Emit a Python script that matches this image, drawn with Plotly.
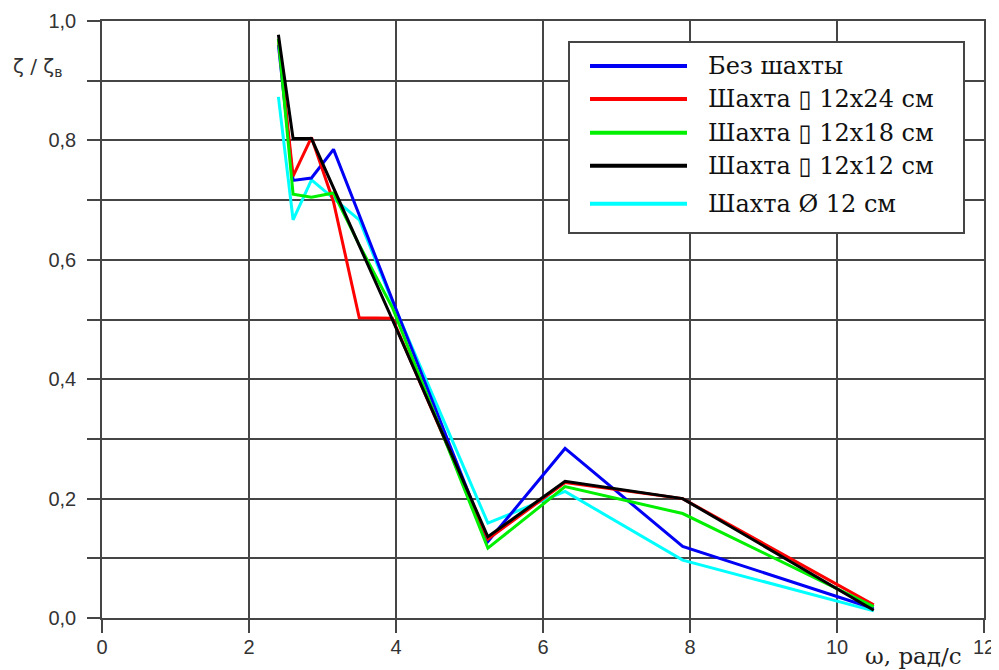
import plotly.graph_objects as go

# ---- data ----
omega = [2.4, 2.6, 2.85, 3.15, 3.5, 3.95, 5.25, 6.3, 7.9, 10.5]

bez_shakhty = [0.960, 0.733, 0.737, 0.785, 0.675, 0.533, 0.128, 0.284, 0.120, 0.016]
shakhta_12x24 = [0.970, 0.740, 0.805, 0.697, 0.503, 0.502, 0.132, 0.227, 0.200, 0.022]
shakhta_12x18 = [0.970, 0.710, 0.705, 0.712, 0.625, 0.520, 0.117, 0.220, 0.175, 0.019]
shakhta_12x12 = [0.977, 0.803, 0.803, 0.720, 0.625, 0.500, 0.136, 0.229, 0.200, 0.013]
shakhta_d12 = [0.873, 0.667, 0.734, 0.703, 0.667, 0.530, 0.159, 0.212, 0.097, 0.012]

series_names = ["Без шахты", "Шахта ▯ 12x24 см", "Шахта ▯ 12x18 см",
                "Шахта ▯ 12x12 см", "Шахта Ø 12 см"]
series_values = [bez_shakhty, shakhta_12x24, shakhta_12x18, shakhta_12x12, shakhta_d12]
series_colors = ["#0000F5", "#FF0000", "#00F000", "#000000", "#00FFFF"]

x_tick_vals = [0, 2, 4, 6, 8, 10, 12]
x_tick_labels = ["0", "2", "4", "6", "8", "10", "12"]
y_tick_vals = [0.0, 0.2, 0.4, 0.6, 0.8, 1.0]
y_tick_labels = ["0,0", "0,2", "0,4", "0,6", "0,8", "1,0"]

# ---- layout geometry (page body adds an 8px offset) ----
OFF = 8
W, H = 999 - OFF, 670 - OFF
L, R, T, B = 102 - OFF, 15, 21 - OFF, 52
PW, PH = W - L - R, H - T - B


def px(xp):  # screen pixel -> paper
    return (xp - OFF - L) / PW


def py(yp):
    return (H - B - (yp - OFF)) / PH


GRID = "#454545"
fig = go.Figure()

draw_order = [4, 0, 1, 2, 3]
for i in draw_order:
    fig.add_trace(go.Scatter(
        x=omega, y=series_values[i], mode="lines", name=series_names[i],
        line=dict(color=series_colors[i], width=3), showlegend=False,
    ))

axis_common = dict(
    showgrid=True, gridcolor=GRID, gridwidth=1.6,
    showline=True, linecolor=GRID, linewidth=1.6, mirror=True,
    zeroline=False, ticks="outside", ticklen=13, tickwidth=1.6, tickcolor=GRID,
    automargin=False,
    tickfont=dict(family="Liberation Sans, Arial, sans-serif", size=20, color="#333333"),
)

fig.update_layout(
    width=W, height=H,
    margin=dict(l=L, r=R, t=T, b=B, autoexpand=False),
    paper_bgcolor="white", plot_bgcolor="white",
    showlegend=False,
    xaxis=dict(range=[0, 12], tickmode="array", tickvals=x_tick_vals,
               ticktext=x_tick_labels, ticklabelstandoff=-3, **axis_common),
    yaxis=dict(range=[0, 1], tickmode="array", tickvals=y_tick_vals,
               ticktext=y_tick_labels, ticklabelstandoff=7,
               minor=dict(tick0=0, dtick=0.1, ticks="outside", ticklen=13,
                          tickwidth=1.6, tickcolor=GRID, showgrid=True,
                          gridcolor=GRID, gridwidth=1.6),
               **axis_common),
)

# axis titles
fig.add_annotation(text="ω, рад/с", xref="paper", yref="paper",
                   x=px(913), y=py(656), xanchor="center", yanchor="middle",
                   showarrow=False,
                   font=dict(family="DejaVu Serif, Liberation Serif, serif", size=23, color="#222222"))
fig.add_annotation(text="ζ / ζ<sub>в</sub>", xref="paper", yref="paper",
                   x=px(37), y=py(67), xanchor="center", yanchor="middle",
                   showarrow=False,
                   font=dict(family="DejaVu Sans, sans-serif", size=20, color="#333333"))

# manual legend
fig.add_shape(type="rect", xref="paper", yref="paper",
              x0=px(569), x1=px(964), y0=py(233), y1=py(42),
              fillcolor="white", line=dict(color=GRID, width=2), layer="above")
rows = [66, 99, 132.7, 165.7, 203.7]
for name, color, ry in zip(series_names, series_colors, rows):
    fig.add_shape(type="line", xref="paper", yref="paper",
                  x0=px(590), x1=px(687), y0=py(ry), y1=py(ry),
                  line=dict(color=color, width=4), layer="above")
    fig.add_annotation(text=name, xref="paper", yref="paper",
                       x=px(706), y=py(ry), xanchor="left", yanchor="middle",
                       showarrow=False,
                       font=dict(family="DejaVu Serif, Liberation Serif, serif", size=24, color="#111111"))

fig.write_html("out.html")
